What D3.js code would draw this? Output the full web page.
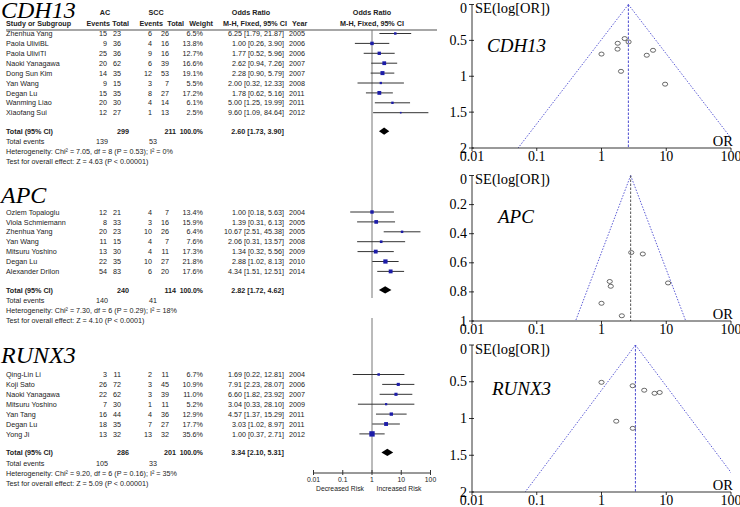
<!DOCTYPE html>
<html><head><meta charset="utf-8">
<script src="https://cdn.jsdelivr.net/npm/d3@7"></script>
<style>body{margin:0;background:#fff}svg{display:block}</style>
</head><body>
<svg id="c" width="740" height="507"></svg>
<script>
// ---------- DATA ----------
const cdh13Studies = ["Zhenhua Yang","Paola UliviBL","Paola UliviTI","Naoki Yanagawa","Dong Sun Kim","Yan Wang","Degan Lu","Wanming Liao","Xiaofang Sui"];
const cdh13AcEvents = [15,9,25,20,14,9,15,20,12];
const cdh13AcTotal = [23,36,36,62,35,15,35,30,27];
const cdh13SccEvents = [6,4,9,6,12,3,8,4,1];
const cdh13SccTotal = [26,16,16,39,53,7,27,14,13];
const cdh13Weight = [6.5,13.8,12.7,16.6,19.1,5.5,17.2,6.1,2.5];
const cdh13OR = [6.25,1.00,1.77,2.62,2.28,2.00,1.78,5.00,9.60];
const cdh13Lower = [1.79,0.26,0.52,0.94,0.90,0.32,0.62,1.25,1.09];
const cdh13Upper = [21.87,3.90,5.96,7.26,5.79,12.33,5.16,19.99,84.64];
const cdh13Year = [2005,2006,2006,2007,2007,2008,2011,2011,2012];
const cdh13Total = {ac:299, scc:211, or:2.60, lo:1.73, hi:3.90, acEv:139, sccEv:53,
  het:"Heterogeneity: Chi² = 7.05, df = 8 (P = 0.53); I² = 0%", z:"Test for overall effect: Z = 4.63 (P < 0.00001)"};

const apcStudies = ["Ozlem Topaloglu","Viola Schmiemann","Zhenhua Yang","Yan Wang","Mitsuru Yoshino","Degan Lu","Alexander Drilon"];
const apcAcEvents = [12,8,20,11,13,22,54];
const apcAcTotal = [21,33,23,15,30,35,83];
const apcSccEvents = [4,3,10,4,4,10,6];
const apcSccTotal = [7,16,26,7,11,27,20];
const apcWeight = [13.4,15.9,6.4,7.6,17.3,21.8,17.6];
const apcOR = [1.00,1.39,10.67,2.06,1.34,2.88,4.34];
const apcLower = [0.18,0.31,2.51,0.31,0.32,1.02,1.51];
const apcUpper = [5.63,6.13,45.38,13.57,5.56,8.13,12.51];
const apcYear = [2004,2005,2005,2008,2009,2010,2014];
const apcTotal = {ac:240, scc:114, or:2.82, lo:1.72, hi:4.62, acEv:140, sccEv:41,
  het:"Heterogeneity: Chi² = 7.30, df = 6 (P = 0.29); I² = 18%", z:"Test for overall effect: Z = 4.10 (P < 0.0001)"};

const runx3Studies = ["Qing-Lin Li","Koji Sato","Naoki Yanagawa","Mitsuru Yoshino","Yan Tang","Degan Lu","Yong Ji"];
const runx3AcEvents = [3,26,22,7,16,18,13];
const runx3AcTotal = [11,72,62,30,44,35,32];
const runx3SccEvents = [2,3,3,1,4,7,13];
const runx3SccTotal = [11,45,39,11,36,27,32];
const runx3Weight = [6.7,10.9,11.0,5.2,12.9,17.7,35.6];
const runx3OR = [1.69,7.91,6.60,3.04,4.57,3.03,1.00];
const runx3Lower = [0.22,2.23,1.82,0.33,1.37,1.02,0.37];
const runx3Upper = [12.81,28.07,23.92,28.10,15.29,8.97,2.71];
const runx3Year = [2004,2006,2007,2009,2011,2011,2012];
const runx3Total = {ac:286, scc:201, or:3.34, lo:2.10, hi:5.31, acEv:105, sccEv:33,
  het:"Heterogeneity: Chi² = 9.20, df = 6 (P = 0.16); I² = 35%", z:"Test for overall effect: Z = 5.09 (P < 0.00001)"};

const forestTicks = [0.01,0.1,1,10,100];
const forestTickLabels = ["0.01","0.1","1","10","100"];
const funnelXTicks = [0.01,0.1,1,10,100];
const funnelXTickLabels = ["0.01","0.1","1","10","100"];
const seTicksCDH13 = [0,0.5,1,1.5,2];
const seTicksAPC = [0,0.2,0.4,0.6,0.8,1];
const seTicksRUNX3 = [0,0.5,1,1.5,2];

// ---------- DRAW ----------
const svg = d3.select("#c");
const SANS = "'Liberation Sans', Arial, sans-serif";
const SERIF = "'Liberation Serif', 'Times New Roman', serif";
const FS = 7.2;
const TXT = "#222";

function build(studies, ae, at, se, st, w, or, lo, hi, yr){
  return studies.map((s,i)=>({name:s, ae:ae[i], at:at[i], se:se[i], st:st[i], w:w[i], or:or[i], lo:lo[i], hi:hi[i], yr:yr[i]}));
}
const sections = [
  {title:"CDH13", titleY:18, row0:33.5, rows:build(cdh13Studies,cdh13AcEvents,cdh13AcTotal,cdh13SccEvents,cdh13SccTotal,cdh13Weight,cdh13OR,cdh13Lower,cdh13Upper,cdh13Year), tot:cdh13Total, vline:[30,190]},
  {title:"APC", titleY:203, row0:212, rows:build(apcStudies,apcAcEvents,apcAcTotal,apcSccEvents,apcSccTotal,apcWeight,apcOR,apcLower,apcUpper,apcYear), tot:apcTotal, vline:[190,298]},
  {title:"RUNX3", titleY:363, row0:374.5, rows:build(runx3Studies,runx3AcEvents,runx3AcTotal,runx3SccEvents,runx3SccTotal,runx3Weight,runx3OR,runx3Lower,runx3Upper,runx3Year), tot:runx3Total, vline:[318,473]}
];
const STEP = 9.9;
const fx = d3.scaleLog().domain([0.01,100]).range([313.5,430.5]);

function txt(g,x,y,s,opt={}){
  return g.append("text").attr("x",x).attr("y",y).text(s)
    .attr("font-family",opt.family||SANS).attr("font-size",opt.size||FS)
    .attr("font-weight",opt.bold?"bold":"normal").attr("font-style",opt.italic?"italic":"normal")
    .attr("text-anchor",opt.anchor||"start").attr("fill",opt.fill||TXT);
}

const fg = svg.append("g");
// header
txt(fg,105,15,"AC",{bold:true,anchor:"middle"});
txt(fg,156,15,"SCC",{bold:true,anchor:"middle"});
txt(fg,251,15,"Odds Ratio",{bold:true,anchor:"middle"});
txt(fg,fx(1),15,"Odds Ratio",{bold:true,anchor:"middle"});
txt(fg,6,26,"Study or Subgroup",{bold:true});
txt(fg,110,26,"Events",{bold:true,anchor:"end"});
txt(fg,129,26,"Total",{bold:true,anchor:"end"});
txt(fg,163,26,"Events",{bold:true,anchor:"end"});
txt(fg,184,26,"Total",{bold:true,anchor:"end"});
txt(fg,213,26,"Weight",{bold:true,anchor:"end"});
txt(fg,223,26,"M-H, Fixed, 95% CI",{bold:true});
txt(fg,292,26,"Year",{bold:true});
txt(fg,fx(1),26,"M-H, Fixed, 95% CI",{bold:true,anchor:"middle"});
fg.append("line").attr("x1",6).attr("x2",437).attr("y1",30).attr("y2",30).attr("stroke","#8a8a8a").attr("stroke-width",1.6);

sections.forEach(sec=>{
  fg.append("line").attr("x1",fx(1)).attr("x2",fx(1)).attr("y1",sec.vline[0]).attr("y2",sec.vline[1]).attr("stroke","#777").attr("stroke-width",1);
  txt(fg,1,sec.titleY,sec.title,{family:SERIF,size:24,italic:true,fill:"#000"});
  sec.rows.forEach((r,i)=>{
    const cy = sec.row0 + i*STEP, ty = cy+2.6;
    txt(fg,6,ty,r.name);
    txt(fg,107,ty,r.ae,{anchor:"end"});
    txt(fg,121,ty,r.at,{anchor:"end"});
    txt(fg,152,ty,r.se,{anchor:"end"});
    txt(fg,169,ty,r.st,{anchor:"end"});
    txt(fg,203,ty,r.w.toFixed(1)+"%",{anchor:"end"});
    txt(fg,284,ty,`${r.or.toFixed(2)} [${r.lo.toFixed(2)}, ${r.hi.toFixed(2)}]`,{anchor:"end"});
    txt(fg,289,ty,r.yr);
    fg.append("line").attr("x1",fx(r.lo)).attr("x2",fx(r.hi)).attr("y1",cy).attr("y2",cy).attr("stroke","#333").attr("stroke-width",1);
    const s = 0.85*Math.sqrt(r.w)+0.3;
    fg.append("rect").attr("x",fx(r.or)-s/2).attr("y",cy-s/2).attr("width",s).attr("height",s).attr("fill","#1c1ca8");
  });
  const last = sec.row0 + (sec.rows.length-1)*STEP;
  const tcy = last + 18.5, tty = tcy+2.6;
  const t = sec.tot;
  txt(fg,6,tty,"Total (95% CI)",{bold:true});
  txt(fg,129,tty,t.ac,{bold:true,anchor:"end"});
  txt(fg,176,tty,t.scc,{bold:true,anchor:"end"});
  txt(fg,203,tty,"100.0%",{bold:true,anchor:"end",size:6.9});
  txt(fg,284,tty,`${t.or.toFixed(2)} [${t.lo.toFixed(2)}, ${t.hi.toFixed(2)}]`,{bold:true,anchor:"end"});
  const dh = 3.6;
  fg.append("path").attr("d",`M${fx(t.lo)},${tcy} L${fx(t.or)},${tcy-dh} L${fx(t.hi)},${tcy} L${fx(t.or)},${tcy+dh} Z`).attr("fill","#000");
  txt(fg,6,tty+10.5,"Total events");
  txt(fg,108,tty+10.5,t.acEv,{anchor:"end"});
  txt(fg,157,tty+10.5,t.sccEv,{anchor:"end"});
  txt(fg,6,tty+20.5,t.het);
  txt(fg,6,tty+30.5,t.z);
});

// forest axis
const ax = fg.append("g");
ax.append("line").attr("x1",fx(0.01)).attr("x2",fx(100)).attr("y1",473).attr("y2",473).attr("stroke","#333");
forestTicks.forEach((v,i)=>{
  ax.append("line").attr("x1",fx(v)).attr("x2",fx(v)).attr("y1",470).attr("y2",475).attr("stroke","#333");
  txt(ax,fx(v),481.5,forestTickLabels[i],{anchor:"middle",size:6.8});
});
txt(ax,340,491,"Decreased Risk",{anchor:"middle",size:6.8});
txt(ax,399,491,"Increased Risk",{anchor:"middle",size:6.8});

// ---------- FUNNELS ----------
const funnels = [
  {title:"CDH13", top:4.5, bottom:148, seMax:2, ticks:seTicksCDH13, sec:sections[0], titlePos:[487,52], vcol:"#4a4ad0"},
  {title:"APC", top:175.5, bottom:321, seMax:1, ticks:seTicksAPC, sec:sections[1], titlePos:[498,223], vcol:"#555"},
  {title:"RUNX3", top:345, bottom:492, seMax:2, ticks:seTicksRUNX3, sec:sections[2], titlePos:[492,395], vcol:"#4a4ad0"}
];
const gx = d3.scaleLog().domain([0.01,100]).range([472,731]);
funnels.forEach((f,k)=>{
  const g = svg.append("g");
  const gy = d3.scaleLinear().domain([0,f.seMax]).range([f.top,f.bottom]);
  const cid = "clip"+k;
  svg.append("clipPath").attr("id",cid).append("rect").attr("x",gx(0.01)).attr("y",f.top-1).attr("width",gx(100)-gx(0.01)).attr("height",f.bottom-f.top+1);
  const cg = g.append("g").attr("clip-path",`url(#${cid})`);
  const pooled = f.sec.tot.or;
  const lp = Math.log(pooled);
  const lowEnd = Math.exp(lp-1.96*f.seMax), hiEnd = Math.exp(lp+1.96*f.seMax);
  cg.append("line").attr("x1",gx(pooled)).attr("y1",gy(0)).attr("x2",gx(lowEnd)).attr("y2",gy(f.seMax))
    .attr("stroke","#4a4ad0").attr("stroke-width",0.9).attr("stroke-dasharray","1.5,1.5");
  cg.append("line").attr("x1",gx(pooled)).attr("y1",gy(0)).attr("x2",gx(hiEnd)).attr("y2",gy(f.seMax))
    .attr("stroke","#4a4ad0").attr("stroke-width",0.9).attr("stroke-dasharray","1.5,1.5");
  cg.append("line").attr("x1",gx(pooled)).attr("y1",gy(0)).attr("x2",gx(pooled)).attr("y2",gy(f.seMax))
    .attr("stroke",f.vcol).attr("stroke-width",1).attr("stroke-dasharray","2.5,1.5");
  f.sec.rows.forEach(r=>{
    const se = (Math.log(r.hi)-Math.log(r.lo))/(2*1.96);
    g.append("ellipse").attr("cx",gx(r.or)).attr("cy",gy(se)).attr("rx",2.6).attr("ry",2)
      .attr("fill","none").attr("stroke","#444").attr("stroke-width",0.8);
  });
  g.append("line").attr("x1",gx(0.01)).attr("x2",gx(0.01)).attr("y1",f.top).attr("y2",f.bottom).attr("stroke","#000").attr("stroke-width",0.8);
  g.append("line").attr("x1",gx(0.01)).attr("x2",gx(100)).attr("y1",f.bottom).attr("y2",f.bottom).attr("stroke","#000").attr("stroke-width",0.8);
  f.ticks.forEach(v=>{
    g.append("line").attr("x1",gx(0.01)-3).attr("x2",gx(0.01)+2).attr("y1",gy(v)).attr("y2",gy(v)).attr("stroke","#000").attr("stroke-width",0.8);
    const ly = v===0 ? f.top+8.5 : gy(v)+4.5;
    txt(g,gx(0.01)-5,ly,String(v),{family:SERIF,size:14,anchor:"end",fill:"#000"});
  });
  funnelXTicks.forEach((v,i)=>{
    g.append("line").attr("x1",gx(v)).attr("x2",gx(v)).attr("y1",f.bottom).attr("y2",f.bottom+3).attr("stroke","#000").attr("stroke-width",0.8);
    txt(g,gx(v),f.bottom+13,funnelXTickLabels[i],{family:SERIF,size:14,anchor:"middle",fill:"#000"});
  });
  txt(g,gx(0.01)+3,f.top+8.5,"SE(log[OR])",{family:SERIF,size:14.5,fill:"#000"});
  txt(g,733,f.bottom-2,"OR",{family:SERIF,size:14.5,anchor:"end",fill:"#000"});
  txt(g,f.titlePos[0],f.titlePos[1],f.title,{family:SERIF,size:19,italic:true,fill:"#000"});
});
</script>
</body></html>
